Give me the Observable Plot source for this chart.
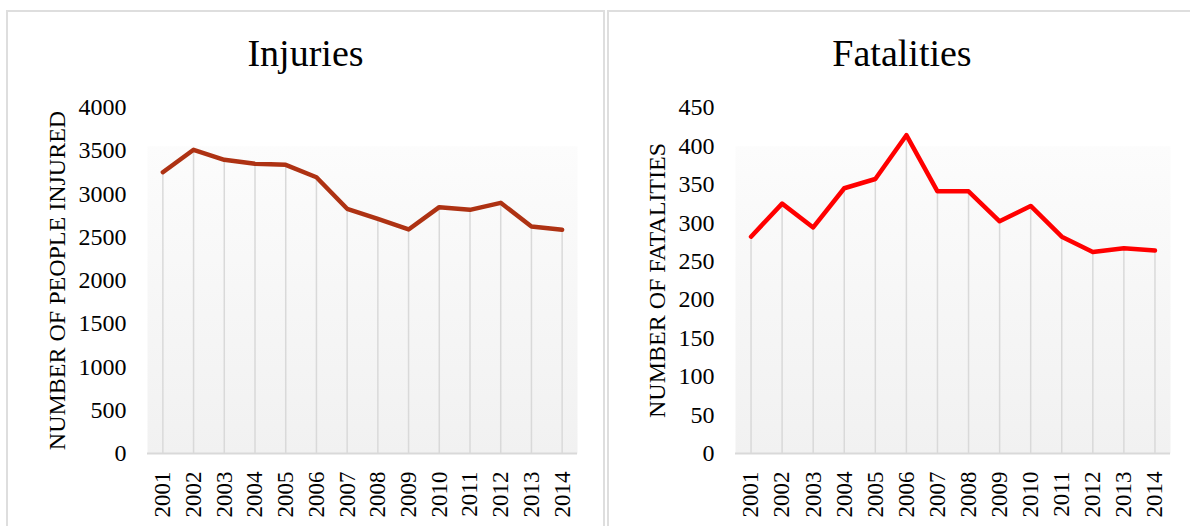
<!DOCTYPE html>
<html>
<head>
<meta charset="utf-8">
<script src="https://cdn.jsdelivr.net/npm/d3@7"></script>
<script src="https://cdn.jsdelivr.net/npm/@observablehq/plot@0.6"></script>
<style>
html, body { margin: 0; padding: 0; background: #fff; width: 1190px; height: 526px; overflow: hidden; position: relative; }
.panel { position: absolute; top: 10px; height: 600px; border: 2px solid #dedede; box-sizing: border-box; }
.title { position: absolute; top: 34px; font-family: "Liberation Serif", "Times New Roman", serif; font-size: 38px; line-height: 38px; text-align: center; color: #000; }
.chart { position: absolute; top: 90px; }
</style>
</head>
<body>
<div class="panel" style="left:6px;width:599px"></div>
<div class="panel" style="left:607px;width:600px"></div>
<div class="title" style="left:6px;width:599px">Injuries</div>
<div class="title" style="left:607px;width:590px">Fatalities</div>
<div id="left" class="chart" style="left:0px"></div>
<div id="right" class="chart" style="left:607px"></div>
<script>
// ---- data ----
const years = ["2001","2002","2003","2004","2005","2006","2007","2008","2009","2010","2011","2012","2013","2014"];
const injuries = [3252, 3511, 3395, 3349, 3337, 3194, 2829, 2713, 2590, 2848, 2817, 2898, 2624, 2586];
const fatalities = [282, 325, 294, 345, 357, 414, 341, 341, 302, 322, 282, 262, 267, 264];
const injuryTicks = [0, 500, 1000, 1500, 2000, 2500, 3000, 3500, 4000];
const fatalityTicks = [0, 50, 100, 150, 200, 250, 300, 350, 400, 450];
const injuryLabel = "NUMBER OF PEOPLE INJURED";
const fatalityLabel = "NUMBER OF FATALITIES";

function addGradient(svg, id) {
  const ns = "http://www.w3.org/2000/svg";
  const defs = document.createElementNS(ns, "defs");
  const g = document.createElementNS(ns, "linearGradient");
  g.setAttribute("id", id);
  g.setAttribute("x1", "0"); g.setAttribute("y1", "0");
  g.setAttribute("x2", "0"); g.setAttribute("y2", "1");
  [["0", "#ffffff"], ["0.112", "#ffffff"], ["0.113", "#fcfcfc"], ["1", "#f1f1f1"]].forEach(([o, c]) => {
    const s = document.createElementNS(ns, "stop");
    s.setAttribute("offset", o);
    s.setAttribute("stop-color", c);
    g.appendChild(s);
  });
  defs.appendChild(g);
  svg.insertBefore(defs, svg.firstChild);
}

function makeChart({width, marginLeft, marginRight, values, ticks, label, labelOffset, color, gradId}) {
  const data = years.map((year, i) => ({year, value: values[i]}));
  const svg = Plot.plot({
    width,
    height: 436,
    marginTop: 17,
    marginBottom: 73,
    marginLeft,
    marginRight,
    style: {fontFamily: "'Liberation Serif', 'Times New Roman', serif", fontSize: "24px", color: "#000", background: "transparent", overflow: "visible"},
    x: {type: "point", domain: years, padding: 0.5, align: 0.5, round: false},
    y: {domain: [ticks[0], ticks[ticks.length - 1]]},
    marks: [
      Plot.frame({fill: `url(#${gradId})`, stroke: "none"}),
      Plot.ruleX(data, {x: "year", y1: 0, y2: "value", stroke: "#d9d9d9", strokeWidth: 1.5}),
      Plot.ruleY([0], {stroke: "#d9d9d9", strokeWidth: 2}),
      Plot.line(data, {x: "year", y: "value", stroke: color, strokeWidth: 4.5, strokeLinejoin: "round", strokeLinecap: "round"}),
      Plot.axisY({ticks, tickSize: 0, tickPadding: 21, tickFormat: d => String(d), label, labelAnchor: "center", labelOffset, labelArrow: "none", fontSize: 24}),
      Plot.axisX({tickSize: 0, tickPadding: 18, tickRotate: -90, label: null, fontSize: 23})
    ]
  });
  addGradient(svg, gradId);
  return svg;
}

document.getElementById("left").appendChild(makeChart({
  width: 605, marginLeft: 147, marginRight: 28,
  values: injuries, ticks: injuryTicks, label: injuryLabel, labelOffset: 100,
  color: "#ae3213", gradId: "gradL"
}));
document.getElementById("right").appendChild(makeChart({
  width: 583, marginLeft: 128, marginRight: 20,
  values: fatalities, ticks: fatalityTicks, label: fatalityLabel, labelOffset: 88,
  color: "#ff0000", gradId: "gradR"
}));
</script>
</body>
</html>
